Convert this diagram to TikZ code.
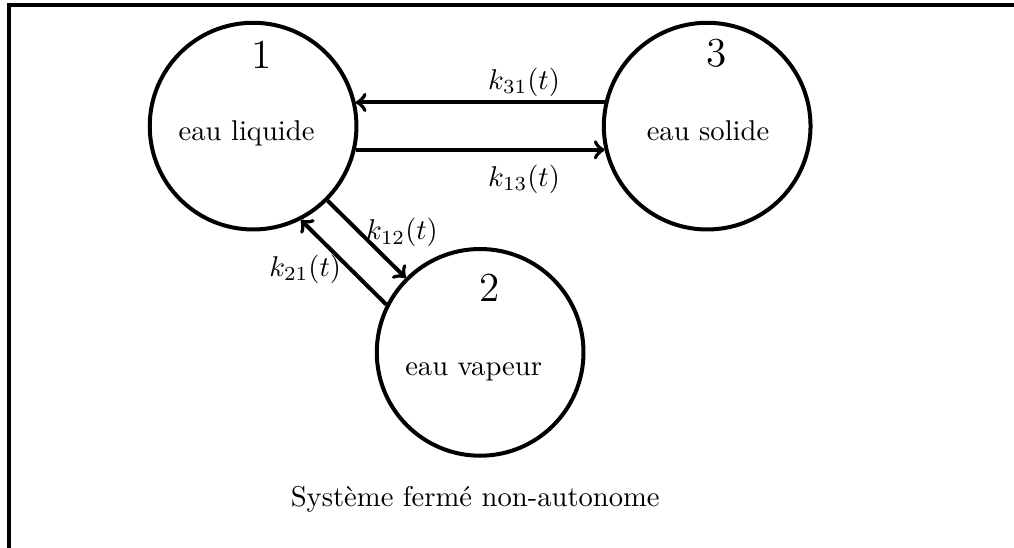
\documentclass[tikz,border=0pt]{standalone}
\usepackage{tikz}
\usetikzlibrary{calc}
\tikzset{
  etat/.style={circle,draw,line width=1.4pt,minimum size=2.54cm,inner sep=0pt},
  flux/.style={line width=1.4pt,->},
  num/.style={font=\Large},
  nom/.style={anchor=base},
  cadre/.style={line width=1.4pt}
}
\begin{document}
\begin{tikzpicture}
\useasboundingbox (0,0) rectangle (12.46,6.73);
% cadre (coupe a droite et en bas)
\coordinate (cbas) at (0.11,0);
\coordinate (chaut) at (0.11,6.67);
\coordinate (cdroit) at (12.46,6.67);
\draw[cadre] (cbas) -- (chaut) -- (cdroit);
% les trois etats
\node[etat] (liq) at (3.11,5.18) {};
\node[etat] (vap) at (5.90,2.40) {};
\node[etat] (sol) at (8.69,5.18) {};
\node[num] (n1) at ($(liq)+(0.11,0.88)$) {1};
\node[num] (n2) at ($(vap)+(0.12,0.79)$) {2};
\node[num] (n3) at ($(sol)+(0.11,0.90)$) {3};
\node[nom] (t1) at (3.03,5.00) {eau liquide};
\node[nom] (t2) at (5.82,2.11) {eau vapeur};
\node[nom] (t3) at (8.70,5.00) {eau solide};
% echanges
\draw[flux] (sol.167) -- (liq.13);
\draw[flux] (liq.-13) -- (sol.-167);
\draw[flux] (liq.-45) -- (vap.135);
\draw[flux] (vap.153) -- (liq.-63);
\node (k31) at (6.44,5.72) {$k_{31}(t)$};
\node (k13) at (6.44,4.53) {$k_{13}(t)$};
\node (k12) at (4.94,3.87) {$k_{12}(t)$};
\node (k21) at (3.75,3.42) {$k_{21}(t)$};
\node (titre) at (5.84,0.60) {Syst\`eme ferm\'e non-autonome};
\end{tikzpicture}
\end{document}
